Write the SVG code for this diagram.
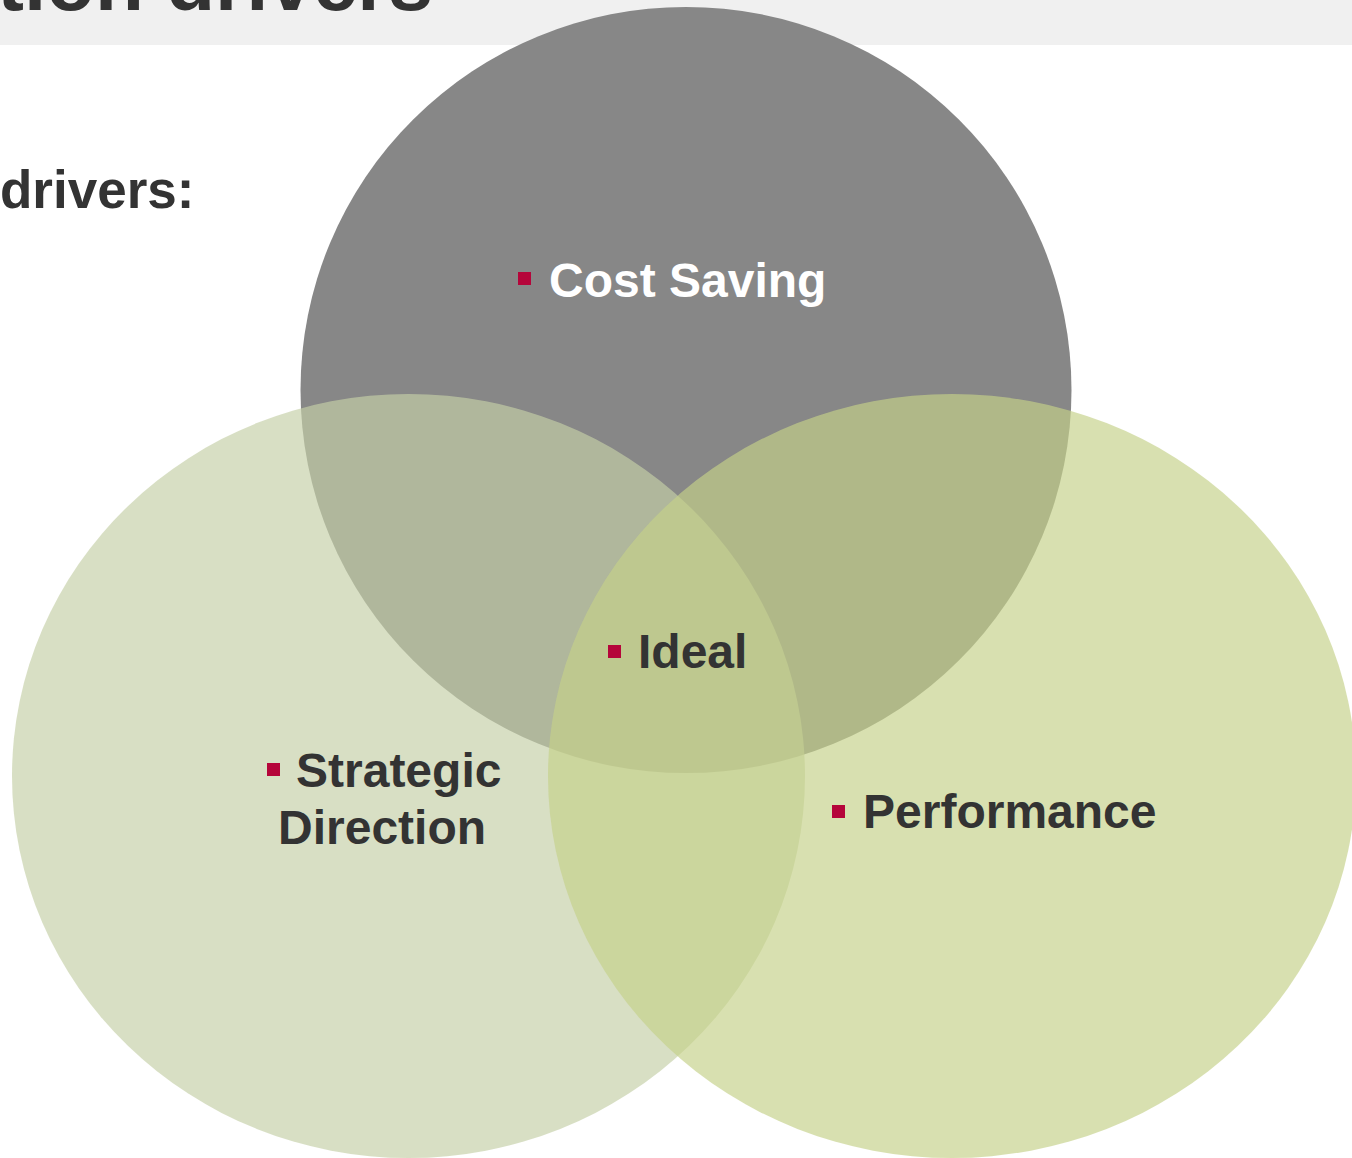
<svg xmlns="http://www.w3.org/2000/svg" width="1352" height="1158" viewBox="0 0 1352 1158">
<style>
.t{font-family:"Liberation Sans",Arial,sans-serif;font-weight:bold;fill:#333333}
.lbl{font-family:"Liberation Sans",Arial,sans-serif;font-weight:bold;font-size:48px;fill:#333333}
.w{fill:#ffffff}
.b{fill:#b5053a}
</style>
<rect x="0" y="0" width="1352" height="1158" fill="#ffffff"/>
<g id="header">
<rect x="0" y="0" width="1352" height="45" fill="#f0f0f0"/>
<text class="t" x="433" y="9.5" font-size="80" text-anchor="end">tion drivers</text>
</g>
<text class="t" x="0" y="208" font-size="53">drivers:</text>
<g id="cost-saving">
<ellipse cx="686" cy="390" rx="385.5" ry="383" fill="#878787"/>
</g>
<g id="strategic-direction">
<ellipse cx="408.5" cy="776" rx="396.5" ry="382" fill="#c5cfa7" fill-opacity="0.67"/>
</g>
<g id="performance">
<ellipse cx="952" cy="776" rx="404" ry="382" fill="#c5d189" fill-opacity="0.67"/>
</g>
<g id="connectors"></g>
<g id="labels">
<rect class="b" x="518" y="272" width="13" height="13"/>
<text class="lbl w" x="549" y="297">Cost Saving</text>
<rect class="b" x="608" y="645" width="13" height="13"/>
<text class="lbl" x="638" y="668">Ideal</text>
<rect class="b" x="267" y="763" width="13" height="13"/>
<text class="lbl" x="296" y="787">Strategic</text>
<text class="lbl" x="278" y="844">Direction</text>
<rect class="b" x="832" y="805" width="13" height="13"/>
<text class="lbl" x="863" y="828">Performance</text>
</g>
</svg>
